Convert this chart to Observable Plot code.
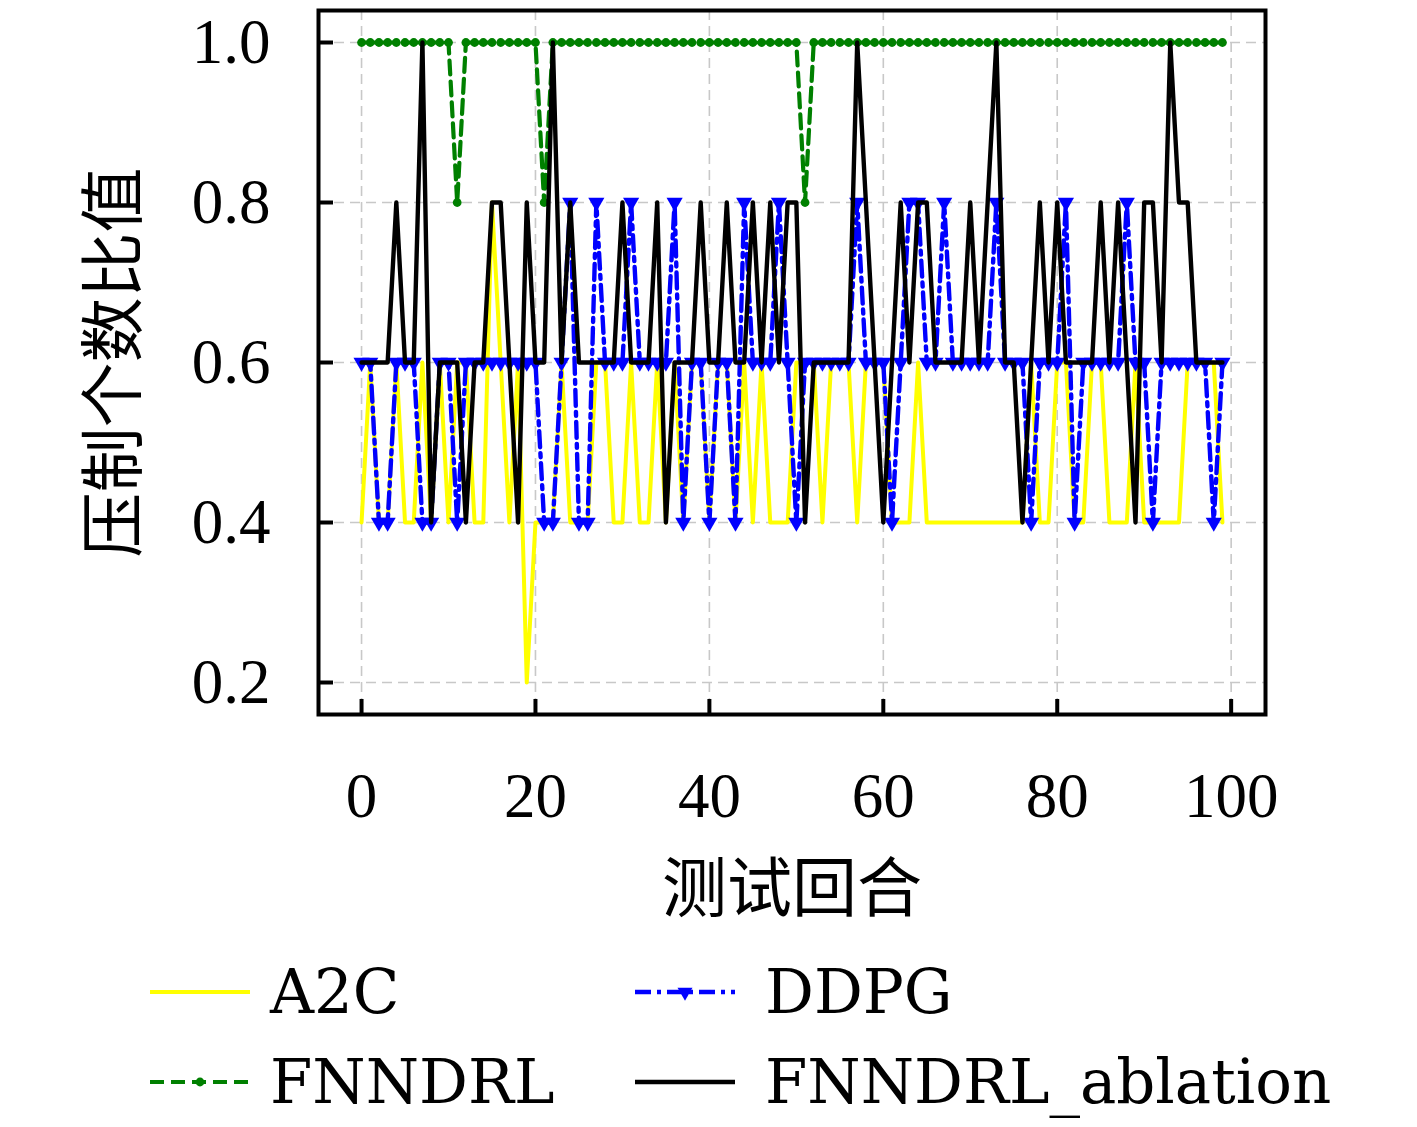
<!DOCTYPE html>
<html>
<head>
<meta charset="utf-8">
<script src="https://cdn.jsdelivr.net/npm/d3@7"></script>
<script src="https://cdn.jsdelivr.net/npm/@observablehq/plot@0.6"></script>
<style>
  html, body { margin: 0; padding: 0; background: #ffffff; }
  #chart { width: 1417px; }
</style>
</head>
<body>
<div id="chart"></div>
<script>
// ---- data ----
const xTicks = [0, 20, 40, 60, 80, 100];
const yTicks = [0.2, 0.4, 0.6, 0.8, 1.0];
const seriesNames = ["A2C", "DDPG", "FNNDRL", "FNNDRL_ablation"];
const xLabel = "测试回合";
const yLabel = "压制个数比值";

const a2c = [
  0.4,0.6,0.4,0.4,0.6,0.4,0.4,0.6,0.4,0.6,
  0.4,0.6,0.6,0.4,0.4,0.8,0.6,0.4,0.6,0.2,
  0.4,0.4,0.4,0.6,0.4,0.4,0.4,0.6,0.6,0.4,
  0.4,0.6,0.4,0.4,0.6,0.4,0.6,0.4,0.6,0.6,
  0.4,0.6,0.6,0.4,0.6,0.4,0.6,0.4,0.4,0.4,
  0.6,0.6,0.6,0.4,0.6,0.6,0.6,0.4,0.6,0.6,
  0.6,0.4,0.4,0.4,0.6,0.4,0.4,0.4,0.4,0.4,
  0.4,0.4,0.4,0.4,0.4,0.4,0.4,0.6,0.4,0.4,
  0.6,0.6,0.4,0.4,0.6,0.6,0.4,0.4,0.4,0.6,
  0.4,0.4,0.4,0.4,0.4,0.6,0.6,0.6,0.6,0.4
];
const ddpg = [
  0.6,0.6,0.4,0.4,0.6,0.6,0.6,0.4,0.4,0.6,
  0.6,0.4,0.6,0.6,0.6,0.6,0.6,0.6,0.6,0.6,
  0.6,0.4,0.4,0.6,0.8,0.4,0.4,0.8,0.6,0.6,
  0.6,0.8,0.6,0.6,0.6,0.6,0.8,0.4,0.6,0.6,
  0.4,0.6,0.6,0.4,0.8,0.6,0.6,0.6,0.8,0.6,
  0.4,0.6,0.6,0.6,0.6,0.6,0.6,0.8,0.6,0.6,
  0.6,0.4,0.6,0.8,0.8,0.6,0.6,0.8,0.6,0.6,
  0.6,0.6,0.6,0.8,0.6,0.6,0.6,0.4,0.6,0.6,
  0.6,0.8,0.4,0.6,0.6,0.6,0.6,0.6,0.8,0.6,
  0.6,0.4,0.6,0.6,0.6,0.6,0.6,0.6,0.4,0.6
];
const fnndrl = [
  1.0,1.0,1.0,1.0,1.0,1.0,1.0,1.0,1.0,1.0,
  1.0,0.8,1.0,1.0,1.0,1.0,1.0,1.0,1.0,1.0,
  1.0,0.8,1.0,1.0,1.0,1.0,1.0,1.0,1.0,1.0,
  1.0,1.0,1.0,1.0,1.0,1.0,1.0,1.0,1.0,1.0,
  1.0,1.0,1.0,1.0,1.0,1.0,1.0,1.0,1.0,1.0,
  1.0,0.8,1.0,1.0,1.0,1.0,1.0,1.0,1.0,1.0,
  1.0,1.0,1.0,1.0,1.0,1.0,1.0,1.0,1.0,1.0,
  1.0,1.0,1.0,1.0,1.0,1.0,1.0,1.0,1.0,1.0,
  1.0,1.0,1.0,1.0,1.0,1.0,1.0,1.0,1.0,1.0,
  1.0,1.0,1.0,1.0,1.0,1.0,1.0,1.0,1.0,1.0
];
const ablation = [
  0.6,0.6,0.6,0.6,0.8,0.6,0.6,1.0,0.4,0.6,
  0.6,0.6,0.4,0.6,0.6,0.8,0.8,0.6,0.4,0.8,
  0.6,0.6,1.0,0.6,0.8,0.6,0.6,0.6,0.6,0.6,
  0.8,0.6,0.6,0.6,0.8,0.4,0.6,0.6,0.6,0.8,
  0.6,0.6,0.8,0.6,0.6,0.8,0.6,0.8,0.6,0.8,
  0.8,0.4,0.6,0.6,0.6,0.6,0.6,1.0,0.8,0.6,
  0.4,0.6,0.8,0.6,0.8,0.8,0.6,0.6,0.6,0.6,
  0.8,0.6,0.8,1.0,0.6,0.6,0.4,0.6,0.8,0.6,
  0.8,0.6,0.6,0.6,0.6,0.8,0.6,0.8,0.6,0.4,
  0.8,0.8,0.6,1.0,0.8,0.8,0.6,0.6,0.6,0.6
];

// ---- build rows ----
const toRows = (arr) => arr.map((v, i) => ({x: i, y: v}));
const rA2C = toRows(a2c), rDDPG = toRows(ddpg), rFN = toRows(fnndrl), rAB = toRows(ablation);

const COL = {A2C: "#ffff00", DDPG: "#0000ff", FNNDRL: "#008000", FNNDRL_ablation: "#000000"};
const LW = {A2C: 4, DDPG: 4.4, FNNDRL: 4.2, FNNDRL_ablation: 4.4};
const DASH = {DDPG: "16,6,4,6", FNNDRL: "14,7"};

// downward triangle symbol
const triangleDown = {
  draw(context, size) {
    const s = Math.sqrt(4 * size / Math.sqrt(3));
    const h = s * Math.sqrt(3) / 2;
    context.moveTo(-s / 2, -h / 3);
    context.lineTo(s / 2, -h / 3);
    context.lineTo(0, 2 * h / 3);
    context.closePath();
  }
};

const W = 1417, H = 940;
const mL = 318, mR = 152, mT = 10, mB = 226;
const frameW = W - mL - mR, frameH = H - mT - mB;
const serif = "'Liberation Serif', 'DejaVu Serif', serif";
const cjk = "'Noto Sans CJK SC', sans-serif";

const chart = Plot.plot({
  width: W, height: H,
  marginLeft: mL, marginRight: mR, marginTop: mT, marginBottom: mB,
  style: {background: "#ffffff", color: "#000000", fontFamily: serif, overflow: "visible"},
  x: {domain: [-4.95, 103.95]},
  y: {domain: [0.16, 1.04]},
  marks: [
    Plot.gridX(xTicks, {stroke: "#c8c8c8", strokeOpacity: 1, strokeWidth: 1.6, strokeDasharray: "10,6"}),
    Plot.gridY(yTicks, {stroke: "#c8c8c8", strokeOpacity: 1, strokeWidth: 1.6, strokeDasharray: "10,6"}),
    Plot.line(rA2C, {x: "x", y: "y", stroke: COL.A2C, strokeWidth: LW.A2C}),
    Plot.line(rDDPG, {x: "x", y: "y", stroke: COL.DDPG, strokeWidth: LW.DDPG, strokeDasharray: DASH.DDPG}),
    Plot.dot(rDDPG, {x: "x", y: "y", symbol: triangleDown, r: 6, fill: COL.DDPG, stroke: "none"}),
    Plot.line(rFN, {x: "x", y: "y", stroke: COL.FNNDRL, strokeWidth: LW.FNNDRL, strokeDasharray: DASH.FNNDRL}),
    Plot.dot(rFN, {x: "x", y: "y", r: 4.4, fill: COL.FNNDRL, stroke: "none"}),
    Plot.line(rAB, {x: "x", y: "y", stroke: COL.FNNDRL_ablation, strokeWidth: LW.FNNDRL_ablation}),
    Plot.frame({stroke: "#000000", strokeWidth: 4}),
    Plot.tickX(xTicks, {x: d => d, insetTop: frameH - 15, stroke: "#000000", strokeWidth: 4}),
    Plot.tickY(yTicks, {y: d => d, insetRight: frameW - 15, stroke: "#000000", strokeWidth: 4}),
    Plot.axisX(xTicks, {tickSize: 0, tickPadding: 58, fontSize: 63, fontFamily: serif, label: null}),
    Plot.axisY(yTicks, {tickSize: 0, tickPadding: 48, fontSize: 63, fontFamily: serif, label: null, tickFormat: d3.format(".1f")}),
    Plot.text([yLabel], {frameAnchor: "left", dx: -203, rotate: -90, textAnchor: "middle", lineAnchor: "middle", fontSize: 65, fontFamily: cjk, fill: "#000000"}),
    Plot.text([xLabel], {frameAnchor: "bottom", dy: 176, textAnchor: "middle", lineAnchor: "middle", fontSize: 65, fontFamily: cjk, fill: "#000000"})
  ]
});
document.getElementById("chart").appendChild(chart);

// ---- legend (below the chart) ----
const legendItems = [
  {name: seriesNames[0], col: 0, row: 0, color: COL.A2C, dash: null, marker: null, w: LW.A2C},
  {name: seriesNames[1], col: 1, row: 0, color: COL.DDPG, dash: DASH.DDPG, marker: "tri", w: LW.DDPG},
  {name: seriesNames[2], col: 0, row: 1, color: COL.FNNDRL, dash: DASH.FNNDRL, marker: "dot", w: LW.FNNDRL},
  {name: seriesNames[3], col: 1, row: 1, color: COL.FNNDRL_ablation, dash: null, marker: null, w: LW.FNNDRL_ablation}
];
const leg = d3.select("#chart").append("svg")
  .attr("width", W).attr("height", 1127 - H)
  .style("display", "block");
const colX = [150, 635];
const rowY = [52, 142];
for (const it of legendItems) {
  const x0 = colX[it.col], y0 = rowY[it.row];
  const ln = leg.append("line")
    .attr("x1", x0).attr("x2", x0 + 100).attr("y1", y0).attr("y2", y0)
    .attr("stroke", it.color).attr("stroke-width", it.w);
  if (it.dash) ln.attr("stroke-dasharray", it.dash);
  if (it.marker === "tri") {
    const cx = x0 + 50, s = 15, h = s * Math.sqrt(3) / 2;
    leg.append("path")
      .attr("d", `M${cx - s / 2},${y0 - h / 3}L${cx + s / 2},${y0 - h / 3}L${cx},${y0 + 2 * h / 3}Z`)
      .attr("fill", it.color);
  } else if (it.marker === "dot") {
    leg.append("circle").attr("cx", x0 + 50).attr("cy", y0).attr("r", 4.4).attr("fill", it.color);
  }
  leg.append("text")
    .attr("x", x0 + (it.col === 0 ? 120 : 130)).attr("y", y0 + 21)
    .attr("font-family", "'DejaVu Serif', serif")
    .attr("font-size", 61)
    .attr("fill", "#000000")
    .text(it.name);
}
</script>
</body>
</html>
